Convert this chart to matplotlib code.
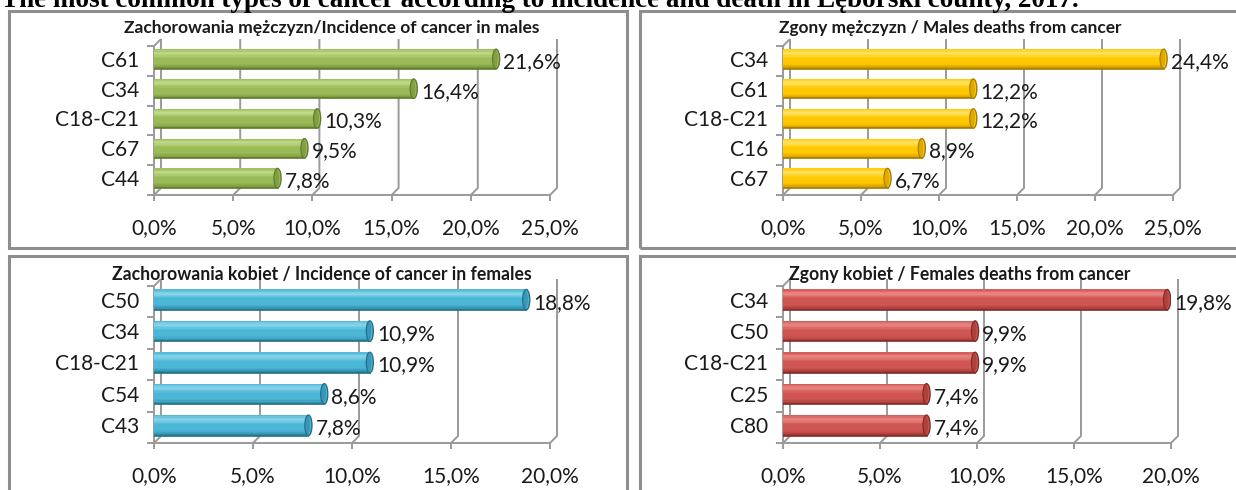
import numpy as np
import matplotlib
matplotlib.use("Agg")
import matplotlib.pyplot as plt
from matplotlib.patches import Rectangle, Ellipse
from matplotlib.colors import to_rgb

W, H = 1236, 490

main_title = "The most common types of cancer according to incidence and death in Lęborski county, 2017."

inc_m_title = "Zachorowania mężczyzn/Incidence of cancer in males"
inc_m_labels = ["C61", "C34", "C18-C21", "C67", "C44"]
inc_m_values = [21.6, 16.4, 10.3, 9.5, 7.8]

death_m_title = "Zgony mężczyzn / Males deaths from cancer"
death_m_labels = ["C34", "C61", "C18-C21", "C16", "C67"]
death_m_values = [24.4, 12.2, 12.2, 8.9, 6.7]

inc_f_title = "Zachorowania kobiet / Incidence of cancer in females"
inc_f_labels = ["C50", "C34", "C18-C21", "C54", "C43"]
inc_f_values = [18.8, 10.9, 10.9, 8.6, 7.8]

death_f_title = "Zgony kobiet / Females deaths from cancer"
death_f_labels = ["C34", "C50", "C18-C21", "C25", "C80"]
death_f_values = [19.8, 9.9, 9.9, 7.4, 7.4]

# (dark bottom, main, highlight, outline)
GREEN = ("#6f8f35", "#9bbb59", "#c3dc8c", "#5f7c2c")
YELLOW = ("#c99700", "#ffc800", "#ffe46a", "#a67c00")
BLUE = ("#2c849f", "#4bb6d6", "#8ad6ec", "#23708a")
RED = ("#9c3532", "#cf5652", "#eb8985", "#832b28")

GRID = "#9a9a9a"
FONT = "Lato"


def px_axes(fig, x0, y0, x1, y1):
    return fig.add_axes([x0 / W, 1 - y1 / H, (x1 - x0) / W, (y1 - y0) / H])


def mix(c1, c2, t):
    a, b = np.array(to_rgb(c1)), np.array(to_rgb(c2))
    return tuple(a + (b - a) * t)


def strip_colors(pal, n):
    dark, main, light, _ = pal
    stops = [(0.0, dark), (0.25, main), (0.55, main), (0.8, light), (1.0, main)]
    out = []
    for k in range(n):
        t = (k + 0.5) / n
        for (t0, c0), (t1, c1) in zip(stops[:-1], stops[1:]):
            if t0 <= t <= t1:
                out.append(mix(c0, c1, (t - t0) / (t1 - t0)))
                break
    return out


def fit_width(fig, txt, width_px):
    # scale a text's font so it spans the width seen in the reference
    r = fig.canvas.get_renderer()
    w = txt.get_window_extent(r).width
    txt.set_fontsize(txt.get_fontsize() * width_px / w)


def draw_panel(ax, box, labels, values, xmax, pal):
    x0, y0, x1, y1 = box
    n = len(labels)
    wpx, hpx = x1 - x0, y1 - y0
    ux = xmax / wpx   # data units per pixel (x)
    uy = n / hpx      # data units per pixel (y)
    ax.set_xlim(0, xmax)
    ax.set_ylim(-0.5, n - 0.5)
    ax.axis("off")

    ypos = np.arange(n)[::-1]
    bot, top = -0.5, n - 0.5
    off = 7
    kw = dict(color=GRID, lw=1.4, clip_on=False, zorder=1, solid_capstyle="butt")

    ticks = np.arange(0, xmax + 0.01, 5)
    for v in ticks:
        ax.plot([v, v + off * ux, v + off * ux], [bot, bot + off * uy, top + off * uy], **kw)
        ax.plot([v, v], [bot, bot - 6 * uy], **kw)
        ax.text(v, bot - 33 * uy, ("%.1f" % v).replace(".", ",") + "%",
                ha="center", va="center", fontsize=15, family=FONT, color="#1a1a1a")
    ax.plot([0, xmax], [bot, bot], **kw)
    ax.plot([0, 0], [bot, top], **kw)
    ax.plot([0, off * ux], [top, top + off * uy], **kw)
    for b in np.arange(bot, top + 0.01, 1):
        ax.plot([0, -7 * ux], [b, b], **kw)

    for lab, y in zip(labels, ypos):
        ax.text(-15 * ux, y, lab, ha="right", va="center", fontsize=15,
                family=FONT, color="#1a1a1a")

    h = 0.65
    ns = 16
    cols = strip_colors(pal, ns)
    for v, y in zip(values, ypos):
        yc = y + 2 * uy
        cap = 7 * ux
        ax.add_patch(Ellipse((0, yc), cap, h, facecolor=pal[0], edgecolor="none", zorder=2))
        for k in range(ns):
            ax.barh(yc - h / 2 + (k + 0.5) * h / ns, v, height=h / ns * 1.05,
                    color=cols[k], edgecolor="none", zorder=3)
        ax.plot([0, v], [yc - h / 2, yc - h / 2], color=pal[3], lw=1.2, zorder=4)
        ax.add_patch(Ellipse((v, yc), cap, h, facecolor=pal[1],
                             edgecolor=pal[3], lw=1.0, zorder=5))
        ax.add_patch(Ellipse((v - 0.8 * ux, yc), cap * 0.7, h * 0.9, facecolor=pal[0],
                             edgecolor="none", zorder=5, alpha=0.6))
        ax.text(v + 7 * ux, yc - 3 * uy, ("%.1f" % v).replace(".", ",") + "%",
                ha="left", va="center", fontsize=15, family=FONT, color="#1a1a1a", zorder=6)


fig = plt.figure(figsize=(W / 100, H / 100), dpi=100)

# panel frames
for bx in [(9, 11, 627, 248), (640, 11, 1240, 248), (9, 256, 627, 496), (640, 256, 1240, 496)]:
    fig.add_artist(Rectangle((bx[0] / W, 1 - bx[3] / H), (bx[2] - bx[0]) / W, (bx[3] - bx[1]) / H,
                             transform=fig.transFigure, fill=False, edgecolor="#8e8e8e", lw=2.2))

t = fig.text(1 / W, 1 - 7 / H, main_title, ha="left", va="baseline", fontsize=19,
             family="Liberation Serif", fontweight="bold")
fit_width(fig, t, 1078)

panels = [
    ((154, 46, 550, 195), inc_m_labels, inc_m_values, 25, GREEN, inc_m_title, 332, 412, 28),
    ((783, 46, 1173, 195), death_m_labels, death_m_values, 25, YELLOW, death_m_title, 950, 341, 28),
    ((154, 286, 550, 443), inc_f_labels, inc_f_values, 20, BLUE, inc_f_title, 322, 416, 274),
    ((783, 286, 1171, 443), death_f_labels, death_f_values, 20, RED, death_f_title, 960, 338, 274),
]
for box, labs, vals, xmax, pal, title, tx, tw, ty in panels:
    ax = px_axes(fig, *box)
    draw_panel(ax, box, labs, vals, xmax, pal)
    tt = fig.text(tx / W, 1 - ty / H, title, ha="center", va="center", fontsize=12,
                  family=FONT, fontweight="bold", color="#1a1a1a")
    fit_width(fig, tt, tw)

fig.savefig("out.png", dpi=100)
